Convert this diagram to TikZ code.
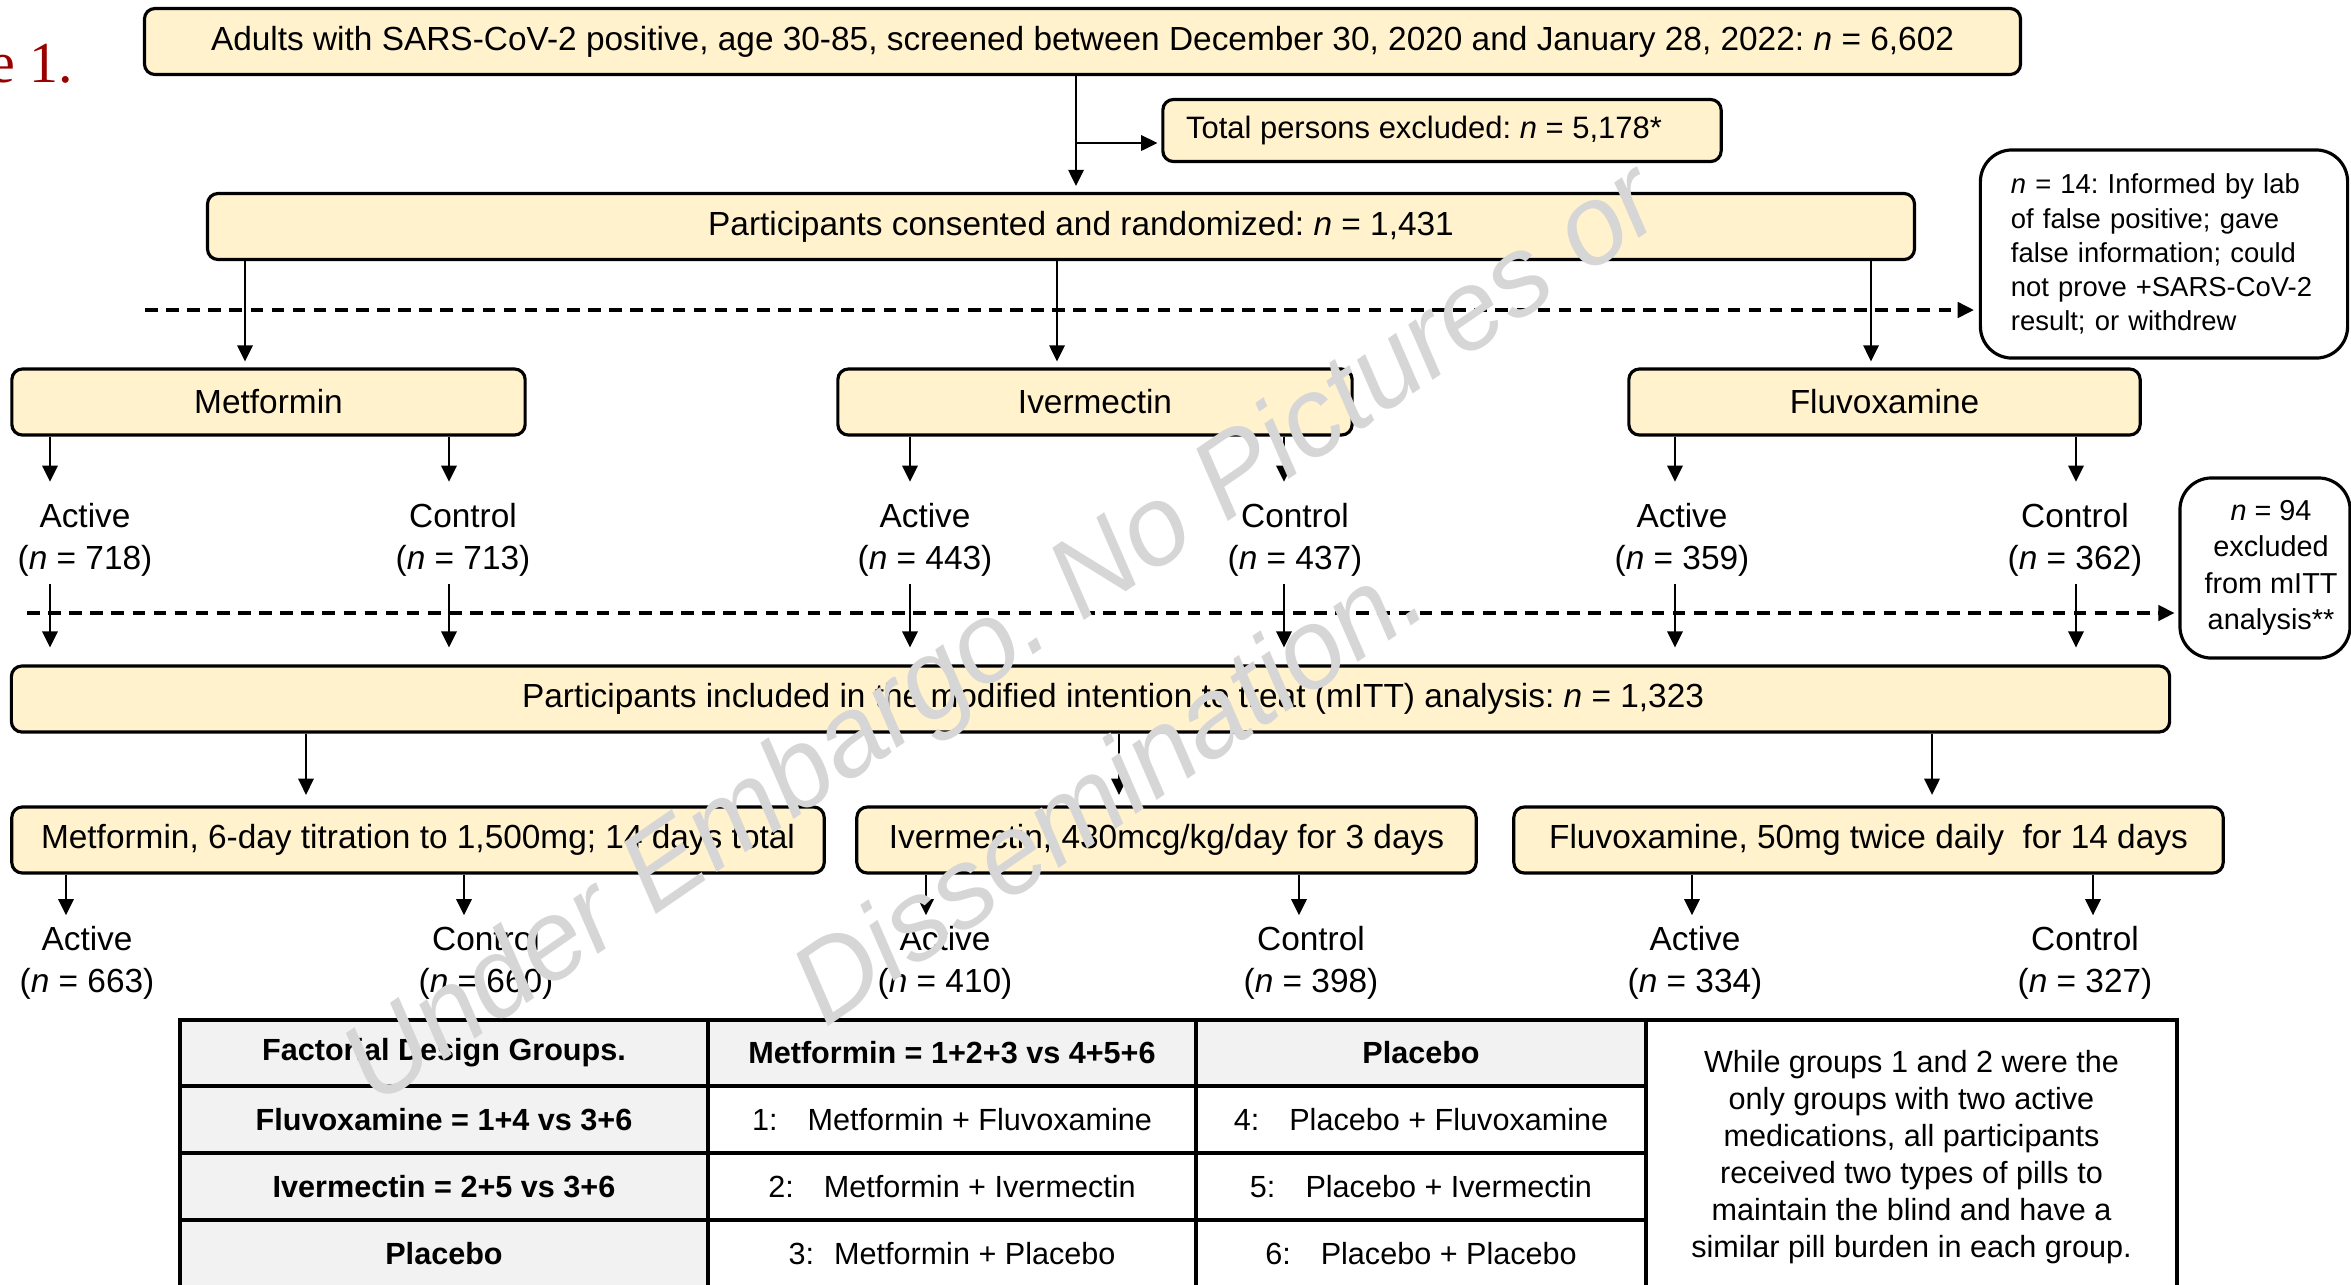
\documentclass[tikz,border=0pt]{standalone}
\usepackage{fontspec}
\setmainfont{Liberation Sans}
\newfontfamily\figfont{Liberation Serif}
\usetikzlibrary{arrows.meta}
\definecolor{boxfill}{RGB}{255,242,204}
\definecolor{cellgray}{RGB}{242,242,242}
\definecolor{figred}{RGB}{153,0,0}
\definecolor{wmgray}{RGB}{214,214,214}
\frenchspacing
\begin{document}
\begin{tikzpicture}[
  x=0.01cm, y=-0.01cm,
  box/.style={draw, rounded corners=3pt, fill=boxfill, line width=0.9pt, inner sep=0pt, minimum height=0.66cm, font=\fontsize{9.5}{11.4}\selectfont},
  note/.style={draw, rounded corners=9pt, fill=white, line width=0.9pt, inner sep=0pt},
  grp/.style={align=center, inner sep=0pt, font=\fontsize{9.5}{11.9}\selectfont},
  arr/.style={line width=0.55pt, -{Triangle[length=4.6pt,width=4.4pt]}},
  dashline/.style={arr, line width=0.9pt, dash pattern=on 3.6pt off 2.4pt},
  cell/.style={inner sep=0pt, font=\fontsize{8.7}{10.5}\selectfont},
  cellb/.style={cell, font=\fontsize{8.7}{10.5}\selectfont\bfseries},
  grid/.style={line width=1.1pt},
  wmark/.style={rotate=34.5, align=center, inner sep=0pt, text=wmgray, font=\fontsize{32}{54}\selectfont\itshape}
]
\useasboundingbox (0,0) rectangle (2351,1284);

% caption fragment
\node[anchor=base east, inner sep=0pt, text=figred, font=\figfont\fontsize{16.5}{19}\selectfont] (fig) at (74,82) {Figure 1.};

% screening and randomization
\node[box, minimum width=18.75cm] (screen) at (1082.5,41.5) {Adults with SARS-CoV-2 positive, age 30-85, screened between December 30, 2020 and January 28, 2022: \textit{n} = 6,602};
\node[box, minimum width=5.58cm, minimum height=0.62cm, font=\fontsize{8.8}{10.6}\selectfont] (excl) at (1442,130.5) {Total persons excluded: \textit{n} = 5,178*\hspace*{0.36cm}};
\node[box, minimum width=17.06cm] (rand) at (1061,226.5) {\hspace*{0.4cm}Participants consented and randomized: \textit{n} = 1,431};
\node[note, minimum width=3.67cm, minimum height=2.08cm, text width=3.06cm, align=left, font=\fontsize{7.8}{9.7}\selectfont] (lost) at (2164,254) {\textit{n} = 14: Informed by lab\\of false positive; gave\\false information; could\\not prove +SARS-CoV-2\\result; or withdrew};

\coordinate (split) at (1076,143);
\draw[arr, shorten >=1.7pt] (screen.south -| split) -- (rand.north -| split);
\draw[arr, shorten >=1.1pt] (split) -- (split -| excl.west);

% arms
\node[box, minimum width=5.13cm] (metf) at (268.5,402) {Metformin};
\node[box, minimum width=5.14cm] (iver) at (1095,402) {Ivermectin};
\node[box, minimum width=5.11cm] (fluv) at (1884.5,402) {Fluvoxamine};

\foreach \b/\x in {metf/245, iver/1057, fluv/1871}{
  \coordinate (in\b) at (\x,300);
  \draw[arr, shorten >=1.7pt] (rand.south -| in\b) -- (\b.north -| in\b);
}

\coordinate (lostcut) at (145,310);
\draw[dashline, shorten >=1.4pt] (lostcut) -- (lostcut -| lost.west);

\node[box, minimum width=21.57cm] (itt) at (1090.5,699) {\hspace*{0.45cm}Participants included in the modified intention to treat (mITT) analysis: \textit{n} = 1,323};
\node[note, minimum width=1.7cm, minimum height=1.8cm, align=center, font=\fontsize{8.2}{10.4}\selectfont] (drop) at (2265,568) {\hspace*{0.12cm}\textit{n} = 94\\\hspace*{0.12cm}excluded\\\hspace*{0.12cm}from mITT\\\hspace*{0.12cm}analysis**};

\foreach \b/\ax/\lx/\g/\n [count=\i] in {metf/50/85/Active/718, metf/449/463/Control/713, iver/910/925/Active/443, iver/1284/1295/Control/437, fluv/1675/1682/Active/359, fluv/2076/2075/Control/362}{
  \node[grp] (arm\i) at (\lx,540) {\g\\(\textit{n} = \n)};
  \coordinate (col\i) at (\ax,540);
  \draw[arr, shorten >=6pt] (\b.south -| col\i) -- (arm\i.north -| col\i);
  \draw[arr, shorten <=2pt, shorten >=4.8pt] (arm\i.south -| col\i) -- (itt.north -| col\i);
}

\coordinate (ittcut) at (27,613);
\draw[dashline, shorten >=1.1pt] (ittcut) -- (ittcut -| drop.west);

% dosing
\node[box, minimum width=8.12cm] (metd) at (418,840) {Metformin, 6-day titration to 1,500mg; 14 days total};
\node[box, minimum width=6.19cm] (ivd) at (1166.5,840) {Ivermectin, 430mcg/kg/day for 3 days};
\node[box, minimum width=7.09cm] (fld) at (1868.5,840) {Fluvoxamine, 50mg twice daily\ \ for 14 days};

\foreach \x/\b in {306/metd, 1119/ivd, 1932/fld}{
  \coordinate (top\b) at (\x,770);
  \draw[arr, shorten >=3pt] (itt.south -| top\b) -- (\b.north -| top\b);
}

\foreach \b/\ax/\lx/\g/\n [count=\i] in {metd/66/87/Active/663, metd/464/486/Control/660, ivd/926/945/Active/410, ivd/1299/1311/Control/398, fld/1692/1695/Active/334, fld/2093/2085/Control/327}{
  \node[grp] (dose\i) at (\lx,963) {\g\\(\textit{n} = \n)};
  \coordinate (dcol\i) at (\ax,963);
  \draw[arr, shorten >=3pt] (\b.south -| dcol\i) -- (dose\i.north -| dcol\i);
}

% factorial table
\fill[cellgray] (180,1020) rectangle (708,1290);
\fill[cellgray] (708,1020) rectangle (1646,1086);
\draw[grid] (180,1290) -- (180,1020) -- (2177,1020) -- (2177,1290);
\foreach \x in {708,1196,1646} \draw[grid] (\x,1020) -- (\x,1290);
\foreach \y in {1086,1153,1220} \draw[grid] (180,\y) -- (1646,\y);

\foreach \y/\a/\b/\c [count=\i] in {
  1053/Factorial Design Groups./\textbf{Metformin = 1+2+3 vs 4+5+6}/\textbf{Placebo},
  1120/Fluvoxamine = 1+4 vs 3+6/1:\hspace{0.3cm}Metformin + Fluvoxamine/4:\hspace{0.3cm}Placebo + Fluvoxamine,
  1187/Ivermectin = 2+5 vs 3+6/2:\hspace{0.3cm}Metformin + Ivermectin/5:\hspace{0.3cm}Placebo + Ivermectin,
  1254/Placebo/3:\hspace{0.2cm}Metformin + Placebo/6:\hspace{0.3cm}Placebo + Placebo}{
  \node[cellb] (ga\i) at (444,\y) {\a};
  \node[cell] (gb\i) at (952,\y) {\b};
  \node[cell] (gc\i) at (1421,\y) {\c};
}
\node[cell, align=center] (blind) at (1911.5,1157) {While groups 1 and 2 were the\\only groups with two active\\medications, all participants\\received two types of pills to\\maintain the blind and have a\\similar pill burden in each group.};

% watermark
\node[wmark] (wm) at (1053,708) {Under Embargo. No Pictures or\\Dissemination.};
\end{tikzpicture}
\end{document}
